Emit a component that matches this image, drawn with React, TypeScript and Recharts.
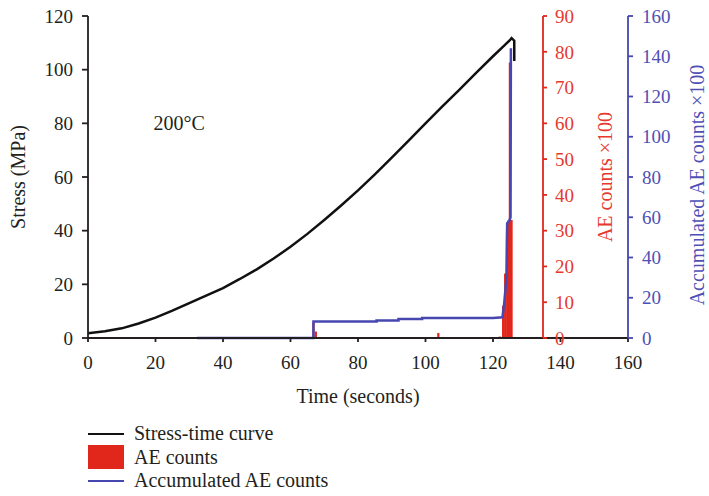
import { Bar, ComposedChart, Legend, Line, ReferenceDot, XAxis, YAxis } from "recharts"

const FONT = "'Liberation Serif', 'Times New Roman', serif"
const INK = "#231f20"
const RED = "#e1261c"
const RED_TEXT = "#e5392d"
const BLUE = "#4747b1"
const BLUE_TEXT = "#4f4fb5"

// axis ticks
const timeTicks = [0, 20, 40, 60, 80, 100, 120, 140, 160]
const stressTicks = [0, 20, 40, 60, 80, 100, 120]
const aeTicks = [0, 10, 20, 30, 40, 50, 60, 70, 80, 90]
const accTicks = [0, 20, 40, 60, 80, 100, 120, 140, 160]

// stress-time curve (s, MPa)
const stressTime = [0, 5, 10, 15, 20, 25, 30, 35, 40, 45, 50, 55, 60, 65, 70, 75, 80, 85, 90, 95, 100, 105, 110, 115, 120, 123, 125, 125.5, 126.3, 126.3]
const stressVal = [1.8, 2.5, 3.6, 5.4, 7.6, 10.2, 13.0, 15.8, 18.6, 22.0, 25.6, 29.6, 34.0, 38.8, 44.0, 49.4, 55.0, 61.0, 67.2, 73.6, 80.0, 86.3, 92.5, 98.8, 105.0, 108.6, 111.0, 111.8, 110.8, 103.2]

// AE counts (x100)
const aeTime = [66.8, 67.5, 103.8, 122.0, 123.0, 123.6, 124.2, 124.7, 125.0, 125.5]
const aeCount = [4.3, 1.8, 1.4, 0.4, 9, 18, 30, 33, 77, 33]

// accumulated AE counts (x100)
const accTime = [32.3, 66.8, 66.8, 85.5, 85.5, 92, 92, 99, 99, 120, 122.8, 123.3, 123.9, 124.0, 124.1, 124.2, 124.9, 125.2, 125.3]
const accVal = [0, 0, 8.2, 8.2, 8.7, 8.7, 9.4, 9.4, 9.9, 9.9, 10.3, 17, 28, 33, 48, 57, 58.5, 60, 144]

const stressData = stressTime.map((t, i) => ({ t, stress: stressVal[i] }))
const aeData = aeTime.map((t, i) => ({ t, ae: aeCount[i] }))
const accData = accTime.map((t, i) => ({ t, acc: accVal[i] }))

const legendOrder = ["stress", "ae", "acc"]

function LegendBox(props: any) {
  const items = [...(props.payload || [])]
    .filter((it: any) => legendOrder.includes(it.dataKey))
    .sort((a: any, b: any) => legendOrder.indexOf(a.dataKey) - legendOrder.indexOf(b.dataKey))
  return (
    <div style={{ fontFamily: FONT, fontSize: 20, color: INK, lineHeight: "23.5px" }}>
      {items.map((it: any) => (
        <div key={it.dataKey} style={{ display: "flex", alignItems: "center", height: 23.5 }}>
          <span
            style={{
              display: "inline-block",
              width: 36,
              height: it.type === "rect" ? 24 : 1.5,
              background: it.color,
              marginRight: 10,
            }}
          />
          <span>{it.value}</span>
        </div>
      ))}
    </div>
  )
}

// thin AE bar, centred on its time value (numeric axis gives a tiny band)
function AeBar(p: any) {
  if (!p.height) return <g />
  return <rect x={p.x + p.width / 2 - 1.1} y={p.y} width={2.2} height={p.height} fill={RED} />
}

const tickFont = { fontFamily: FONT, fontSize: 19 }
const titleFont = { fontFamily: FONT, fontSize: 20 }

export default function App() {
  return (
    <div style={{ position: "absolute", left: 0, top: 0, width: 709, height: 496, background: "#fff" }}>
      <ComposedChart
        width={709}
        height={496}
        data={aeData}
        barCategoryGap={0}
        margin={{ top: 16, right: 0, bottom: 88, left: 28 }}
      >
        <XAxis
          dataKey="t"
          type="number"
          domain={[0, 160]}
          ticks={timeTicks}
          height={70}
          tickSize={4}
          tickMargin={14}
          stroke={INK}
          strokeWidth={1.8}
          tick={{ ...tickFont, fill: INK }}
          label={{ value: "Time (seconds)", position: "center", dy: 23, style: { ...titleFont, fill: INK } }}
        />
        <YAxis
          yAxisId="stress"
          domain={[0, 120]}
          ticks={stressTicks}
          width={60}
          tickSize={6}
          tickMargin={9}
          stroke={INK}
          strokeWidth={1.8}
          tick={{ ...tickFont, fill: INK }}
          label={{ value: "Stress (MPa)", angle: -90, position: "center", dx: -40, style: { ...titleFont, fill: INK } }}
        />
        <YAxis yAxisId="ae" orientation="right" domain={[0, 90]} hide />
        <YAxis
          yAxisId="acc"
          orientation="right"
          domain={[0, 160]}
          ticks={accTicks}
          width={81}
          tickSize={5}
          tickMargin={9}
          stroke={BLUE}
          strokeWidth={1.8}
          tick={{ ...tickFont, fill: BLUE_TEXT }}
          label={{
            value: "Accumulated AE counts ×100",
            angle: -90,
            position: "center",
            dx: 28,
            dy: 8,
            style: { ...titleFont, fill: BLUE_TEXT },
          }}
        />
        <ReferenceDot
          yAxisId="stress"
          x={27}
          y={80}
          r={0}
          label={{ value: "200°C", position: "center", style: { ...titleFont, fill: INK } }}
        />
        <Bar
          dataKey="ae"
          yAxisId="ae"
          name="AE counts"
          fill={RED}
          shape={AeBar}
          legendType="rect"
          isAnimationActive={false}
        />
        <Line
          data={accData}
          dataKey="acc"
          yAxisId="acc"
          name="Accumulated AE counts"
          type="linear"
          stroke={BLUE}
          strokeWidth={2.5}
          dot={false}
          legendType="line"
          isAnimationActive={false}
        />
        <Line
          data={stressData}
          dataKey="stress"
          yAxisId="stress"
          name="Stress-time curve"
          type="linear"
          stroke="#111"
          strokeWidth={2.5}
          dot={false}
          legendType="line"
          isAnimationActive={false}
        />
        <Legend
          layout="horizontal"
          verticalAlign="middle"
          align="center"
          content={LegendBox}
          wrapperStyle={{ left: 88, top: 422, width: "auto" }}
        />
      </ComposedChart>
      <div style={{ position: "absolute", left: 0, top: 0, pointerEvents: "none" }}>
        <ComposedChart width={709} height={496} data={aeData} margin={{ top: 16, right: 100, bottom: 158, left: 0 }}>
          <XAxis dataKey="t" type="number" domain={[0, 160]} hide />
          <YAxis
            yAxisId="ae"
            orientation="right"
            domain={[0, 90]}
            ticks={aeTicks}
            width={66}
            tickSize={4}
            tickMargin={8}
            stroke={RED}
            strokeWidth={1.8}
            tick={{ ...tickFont, fill: RED_TEXT }}
            label={{ value: "AE counts ×100", angle: -90, position: "center", dx: 29, style: { ...titleFont, fill: RED_TEXT } }}
          />
          <Line dataKey="ae" yAxisId="ae" stroke="none" dot={false} legendType="none" isAnimationActive={false} />
        </ComposedChart>
      </div>
    </div>
  )
}
